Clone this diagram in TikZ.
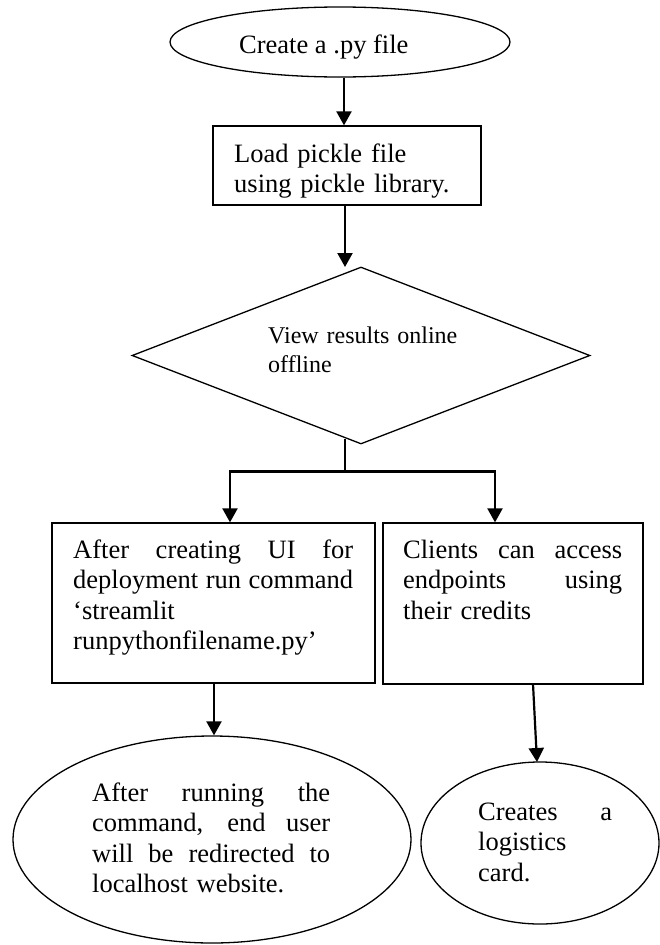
\documentclass[tikz,border=0pt]{standalone}
\usepackage{fontspec}
\setmainfont{Liberation Serif}
\usetikzlibrary{shapes.geometric,arrows.meta}
\tikzset{
  shape line/.style={draw=black,line width=1.3bp},
  flowbox/.style={shape line,rectangle,inner sep=0pt},
  oval/.style={shape line,ellipse,inner sep=0pt},
  decision/.style={shape line,diamond,inner sep=0pt,aspect=2.59},
  txt/.style={inner sep=0pt,anchor=base west,align=left,font=\fontsize{26.5bp}{30.5bp}\selectfont},
  arr/.style={line width=2.2bp,-{Triangle[width=15bp,length=14bp]}},
  link/.style={line width=2.2bp}
}
\newcommand{\jline}[2]{\makebox[#1][s]{\spaceskip=.25em plus 1fil\relax\xspaceskip=.25em plus 1fil\relax #2}}
\begin{document}
\begin{tikzpicture}[x=1bp,y=-1bp]
\useasboundingbox (0,0) rectangle (660,945);
% shapes
\node[oval,minimum width=340bp,minimum height=70bp] (start) at (340,42) {};
\node[flowbox,minimum width=268bp,minimum height=79bp] (load) at (347,165.5) {};
\node[decision,minimum width=458bp,minimum height=177bp] (dec) at (361,355.5) {};
\node[flowbox,minimum width=323bp,minimum height=160bp] (ui) at (213.5,603) {};
\node[flowbox,minimum width=260bp,minimum height=161bp] (cli) at (513,603.5) {};
\node[oval,minimum width=398bp,minimum height=207bp] (local) at (212,839.5) {};
\node[oval,minimum width=238bp,minimum height=162bp] (card) at (540,843) {};
% texts
\node[txt] (tstart) at (239,53) {Create a .py file};
\node[txt,text width=250bp] (tload) at (234,162) {Load pickle file\\using pickle library.};
\node[txt,text width=200bp,font=\fontsize{24bp}{29bp}\selectfont] (tdec) at (268,343) {View results online\\offline};
\node[txt,text width=280bp] (tui) at (73,558) {\jline{280bp}{After creating UI for}\\\jline{280bp}{deployment run command}\\‘streamlit\\runpythonfilename.py’};
\node[txt,text width=219bp] (tcli) at (403,558) {\jline{219bp}{Clients can access}\\\jline{219bp}{endpoints using}\\their credits};
\node[txt,text width=238bp] (tlocal) at (92,801) {\jline{238bp}{After running the}\\\jline{238bp}{command, end user}\\\jline{238bp}{will be redirected to}\\localhost website.};
\node[txt,text width=134bp] (tcard) at (478,820) {\jline{134bp}{Creates a}\\logistics\\card.};
% connectors
\coordinate (c1) at (344,0);
\draw[arr] (start.south -| c1) -- (load.north -| c1);
\coordinate (c2) at (345,0);
\coordinate (d2) at (345,267);
\draw[arr] (load.south -| c2) -- (d2);
\coordinate (b0) at (345,439);
\coordinate (bj) at (345,471.5);
\coordinate (lx) at (230,0);
\coordinate (rx) at (495,0);
\draw[link] (b0) -- (bj);
\draw[arr] (bj) -| (ui.north -| lx);
\draw[arr] (bj) -| (cli.north -| rx);
\coordinate (l1) at (214,0);
\draw[arr] (ui.south -| l1) -- (local.north -| l1);
\coordinate (r1) at (533,684);
\coordinate (r2) at (537,762);
\draw[arr] (r1) -- (r2);
\end{tikzpicture}
\end{document}
